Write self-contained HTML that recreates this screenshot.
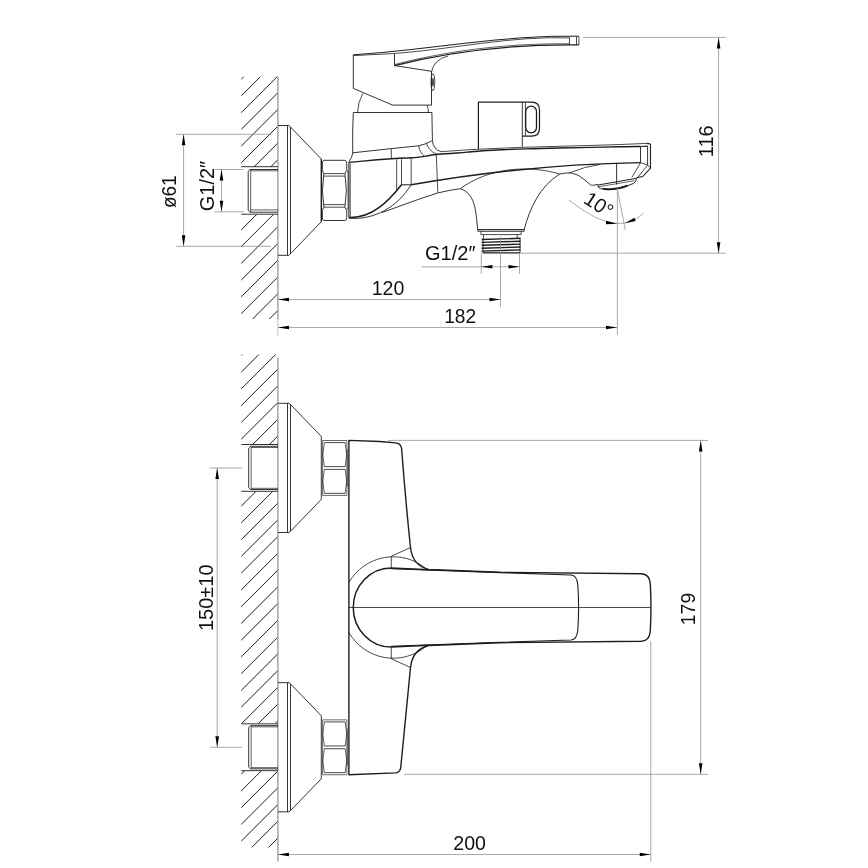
<!DOCTYPE html>
<html><head><meta charset="utf-8"><title>Drawing</title>
<style>
html,body{margin:0;padding:0;background:#fff;}
svg{display:block}
text{font-family:"Liberation Sans",sans-serif;fill:#111;}
svg{filter:grayscale(1)}
</style></head><body>
<svg width="868" height="868" viewBox="0 0 868 868" stroke-linecap="butt" stroke-linejoin="round">
<rect width="868" height="868" fill="#fff"/>
<clipPath id="h1"><path clip-rule="evenodd" d="M241.25,76.8H278V319H241.25ZM241.25,166.7H278V214.2H241.25Z"/></clipPath>
<g clip-path="url(#h1)" stroke="#1d1d1b" stroke-width="1.0">
<line x1="239.25" y1="81.10" x2="280" y2="40.35"/>
<line x1="239.25" y1="97.85" x2="280" y2="57.10"/>
<line x1="239.25" y1="114.60" x2="280" y2="73.85"/>
<line x1="239.25" y1="131.35" x2="280" y2="90.60"/>
<line x1="239.25" y1="148.10" x2="280" y2="107.35"/>
<line x1="239.25" y1="164.85" x2="280" y2="124.10"/>
<line x1="239.25" y1="181.60" x2="280" y2="140.85"/>
<line x1="239.25" y1="198.35" x2="280" y2="157.60"/>
<line x1="239.25" y1="215.10" x2="280" y2="174.35"/>
<line x1="239.25" y1="231.85" x2="280" y2="191.10"/>
<line x1="239.25" y1="248.60" x2="280" y2="207.85"/>
<line x1="239.25" y1="265.35" x2="280" y2="224.60"/>
<line x1="239.25" y1="282.10" x2="280" y2="241.35"/>
<line x1="239.25" y1="298.85" x2="280" y2="258.10"/>
<line x1="239.25" y1="315.60" x2="280" y2="274.85"/>
<line x1="239.25" y1="332.35" x2="280" y2="291.60"/>
<line x1="239.25" y1="349.10" x2="280" y2="308.35"/>
<line x1="239.25" y1="365.85" x2="280" y2="325.10"/>
</g>
<line x1="277.9" y1="76.6" x2="277.9" y2="319.5" stroke="#979797" stroke-width="1.3"/>
<line x1="277.9" y1="319.5" x2="277.9" y2="336" stroke="#c4c4c4" stroke-width="1.0"/>
<line x1="241.25" y1="166.7" x2="278" y2="166.7" stroke="#1d1d1b" stroke-width="0.9"/>
<line x1="241.25" y1="214.2" x2="278" y2="214.2" stroke="#1d1d1b" stroke-width="0.9"/>
<path d="M278,169.5H250L248.2,171.2V210.5L250,212.2H278" stroke="#1d1d1b" stroke-width="0.9" fill="none" />
<path d="M250.7,169.6V212.1M250.7,170.8H278M250.7,209.9H278" stroke="#1d1d1b" stroke-width="0.7" fill="none" />
<path d="M278,125.5H288.8L290.5,127L321.3,159V221.7L290.5,253.8L288.8,255.3H278" stroke="#1d1d1b" stroke-width="0.9" fill="none" />
<path d="M287.5,125.5V255.3M290.5,127V253.8" stroke="#1d1d1b" stroke-width="0.9" fill="none" />
<line x1="321.4" y1="159" x2="321.4" y2="221.7" stroke="#1d1d1b" stroke-width="1.3"/>
<path d="M323.9,160.3 H344.9 Q346.75,160.5 346.75,163.4 V170.4 L344.9,173.6 Q347.9,190.4 344.9,207.2 L346.75,210.3 V217.3 Q346.75,220.3 344.9,220.5 H323.9 Q322.3,220.3 322.3,217.3 V210.3 L323.9,207.2 Q320.9,190.4 323.9,173.6 L322.3,170.4 V163.4 Q322.3,160.5 323.9,160.3 Z" stroke="#1d1d1b" stroke-width="0.9" fill="none" />
<path d="M323.9,173.6H344.9M323.9,176.1H344.9M323.9,204.6H344.9M323.9,207.2H344.9" stroke="#1d1d1b" stroke-width="0.8" fill="none" />
<path d="M346.75,171H348V209H346.75" stroke="#1d1d1b" stroke-width="0.7" fill="none" />
<path d="M441.2,151.7 C510.2,146.1 579.5,146.7 646.5,143.4" stroke="#1d1d1b" stroke-width="0.8" fill="none" />
<path d="M349.0,162.4 C363.0,161.2 370.4,160.2 391.1,158.7 C411.8,157.2 399.7,158.7 411.2,157.8 C422.7,156.9 417.3,157.2 425.6,156.1 C433.9,155.0 425.6,155.5 436.0,154.5 C446.4,153.5 442.9,154.1 456.9,153.0 C470.9,151.9 463.7,152.3 478.1,151.2 C492.5,150.1 479.4,150.7 500.0,149.8 C520.6,148.9 513.3,149.2 540.0,148.5 C566.7,147.8 553.3,148.2 580.0,147.6 C606.7,147.0 599.8,147.2 620.0,146.8 C640.2,146.4 633.7,146.6 640.5,146.5" stroke="#1d1d1b" stroke-width="1.4" fill="none" />
<line x1="640.5" y1="146.5" x2="647.6" y2="146.1" stroke="#1d1d1b" stroke-width="1.2"/>
<path d="M348.9,162.3V217.5" stroke="#1d1d1b" stroke-width="1.0" fill="none" />
<path d="M350.2,163.5V217" stroke="#1d1d1b" stroke-width="0.8" fill="none" />
<path d="M348.9,217.5 C371.7,218.6 388.7,201.2 401.5,184.8" stroke="#1d1d1b" stroke-width="1.5" fill="none" />
<path d="M348.9,218.2 C374.7,220.4 398.1,206.3 411.0,184.8" stroke="#1d1d1b" stroke-width="0.9" fill="none" />
<path d="M381.8,212.6 L420,198.8 L437.5,193 Q450,190 460.3,188.7" stroke="#1d1d1b" stroke-width="0.9" fill="none" />
<path d="M396.7,159.4V189.6 M401.5,159.2V184.8 M411.2,158.5V184.8" stroke="#1d1d1b" stroke-width="0.8" fill="none" />
<path d="M401.5,184.8H411.2" stroke="#1d1d1b" stroke-width="1.0" fill="none" />
<path d="M411.2,184.8 C487.0,171.6 564.0,163.8 640.5,162.6" stroke="#1d1d1b" stroke-width="1.4" fill="none" />
<path d="M352.7,130V152.8 Q352.3,157.5 348.9,161.8" stroke="#1d1d1b" stroke-width="0.9" fill="none" />
<path d="M352.7,152.8 L391.3,148.6 L418.6,145.8 Q426,144.2 431.9,140.8" stroke="#1d1d1b" stroke-width="0.9" fill="none" />
<path d="M391.3,148.6V158.5" stroke="#1d1d1b" stroke-width="0.8" fill="none" />
<path d="M418.6,145.8 Q420,153 424.3,156 M426.2,142.7 Q428.5,150.5 436.3,154.1" stroke="#1d1d1b" stroke-width="0.8" fill="none" />
<path d="M436.3,154.7L437.8,192.7" stroke="#1d1d1b" stroke-width="0.8" fill="none" />
<path d="M353.3,112.5H431.9 M353.3,112.5 L352.7,130 M431.9,112.5 L432.4,140.8 Q433.2,149.5 441.2,151.7" stroke="#1d1d1b" stroke-width="0.9" fill="none" />
<path d="M362.8,93.4 Q358,102 357.5,112.5 M427.2,105.1 Q428.3,109 428.5,112.5" stroke="#1d1d1b" stroke-width="0.8" fill="none" />
<path d="M353.3,54.8V88.4L392.6,105.1H431.5V71.3" stroke="#1d1d1b" stroke-width="0.9" fill="none" />
<path d="M353.3,54.8 C428.7,50.1 503.1,34.6 578.9,36.2" stroke="#1d1d1b" stroke-width="1.0" fill="none" />
<path d="M353.3,55.6 L394.5,53.5 C453.1,49.2 510.9,35.7 570.0,37.9" stroke="#1d1d1b" stroke-width="0.8" fill="none" />
<path d="M394.5,53.5V65.6L431.5,71.3" stroke="#1d1d1b" stroke-width="0.9" fill="none" />
<path d="M394.5,65.6 C454.6,50.2 517.0,44.3 578.9,44.9" stroke="#1d1d1b" stroke-width="1.3" fill="none" />
<path d="M394.5,64.6 C454.6,48.8 517.0,43.2 569.5,43.8" stroke="#1d1d1b" stroke-width="0.7" fill="none" />
<path d="M431.2,73.5 Q433,59.5 448.4,55.9" stroke="#1d1d1b" stroke-width="0.8" fill="none" />
<path d="M578.9,36.2V44.9 M576.5,36.4V44.9 M569.5,37.9V44.8" stroke="#1d1d1b" stroke-width="0.8" fill="none" />
<ellipse cx="432.9" cy="82.2" rx="1.9" ry="8.5" fill="none" stroke="#1d1d1b" stroke-width="0.8"/>
<ellipse cx="433" cy="82.2" rx="0.8" ry="4.5" fill="#1d1d1b"/>
<path d="M478.4,149.1V102.2H531.5Q539.5,102.2 539.5,110V128.2Q539.5,136.1 531.5,136.1H522.3" stroke="#1d1d1b" stroke-width="1.2" fill="none" />
<path d="M522.3,102.2V146.7" stroke="#1d1d1b" stroke-width="0.9" fill="none" />
<path d="M525.4,102.5V136" stroke="#1d1d1b" stroke-width="0.8" fill="none" />
<rect x="525.7" y="106.2" width="10.8" height="26.6" rx="5.4" fill="none" stroke="#1d1d1b" stroke-width="1.3"/>
<path d="M646.5,143.4L650,143.9L650.5,145V168.1L642.8,176.5L637.6,177.5L635.4,178.8" stroke="#1d1d1b" stroke-width="1.1" fill="none" />
<path d="M640.5,146.6V162.6 M647.6,146V165" stroke="#1d1d1b" stroke-width="0.9" fill="none" />
<path d="M640.5,162.6L647.6,165L650.5,168.1" stroke="#1d1d1b" stroke-width="0.8" fill="none" />
<path d="M640.5,162.8L631.9,177.4 M647.6,165.2L637.6,177.4" stroke="#1d1d1b" stroke-width="0.8" fill="none" />
<path d="M598.1,185 L635.2,178.5 Q636.6,179.3 636,180.6 Q635.3,182.4 633.5,183.4 C625,187.5 611,190.3 600.5,188.6 Q597.4,187.6 598.1,185Z" stroke="#1d1d1b" stroke-width="1.0" fill="none" />
<path d="M598.9,186.7 L634.4,180.7" stroke="#1d1d1b" stroke-width="0.7" fill="none" />
<path d="M603,188.8 C611,190 620,188.7 627.5,185.6" stroke="#1d1d1b" stroke-width="1.7" fill="none" />
<path d="M559.8,174 Q566,172.5 571.5,173 Q578.5,174.2 584,179.4 L590.6,184.9 Q591.3,185.4 592.5,185.3 L598,184.5" stroke="#1d1d1b" stroke-width="0.9" fill="none" />
<path d="M569,173 Q585,166.5 600,164.4" stroke="#1d1d1b" stroke-width="0.8" fill="none" />
<path d="M460.3,188.7 C476.9,193.8 475.7,215.5 477.8,229.5 H524.2 C529.8,208.2 540.0,186.0 559.8,174.0" stroke="#1d1d1b" stroke-width="0.9" fill="none" />
<path d="M460.3,188.7 C488.3,168.1 527.1,164.4 559.8,174.0" stroke="#1d1d1b" stroke-width="0.8" fill="none" />
<path d="M477.8,229.5V231.2H524.2V229.5" stroke="#1d1d1b" stroke-width="1.0" fill="none" />
<path d="M480.9,231.2V234.6H521.1V231.2" stroke="#1d1d1b" stroke-width="0.8" fill="none" />
<path d="M483.5,234.6V238.2 M517.2,234.6V238.2" stroke="#1d1d1b" stroke-width="0.8" fill="none" />
<path d="M483,238.2V253 M520,238.2V253" stroke="#1d1d1b" stroke-width="0.9" fill="none" />
<line x1="481.6" y1="239.5" x2="520.6" y2="238.3" stroke="#1d1d1b" stroke-width="1.4"/>
<line x1="481.6" y1="242.39999999999998" x2="520.6" y2="241.2" stroke="#1d1d1b" stroke-width="1.4"/>
<line x1="481.6" y1="245.29999999999998" x2="520.6" y2="244.1" stroke="#1d1d1b" stroke-width="1.4"/>
<line x1="481.6" y1="248.2" x2="520.6" y2="247.0" stroke="#1d1d1b" stroke-width="1.4"/>
<line x1="481.6" y1="251.1" x2="520.6" y2="249.9" stroke="#1d1d1b" stroke-width="1.4"/>
<line x1="483" y1="252.9" x2="520" y2="252.9" stroke="#1d1d1b" stroke-width="1.2"/>
<line x1="616.6" y1="163.2" x2="616.6" y2="184.5" stroke="#1d1d1b" stroke-width="0.9"/>
<line x1="583.1" y1="37.4" x2="725.9" y2="37.4" stroke="#939393" stroke-width="0.8"/>
<line x1="519.5" y1="253.2" x2="725.9" y2="253.2" stroke="#939393" stroke-width="0.8"/>
<line x1="718.6" y1="37.4" x2="718.6" y2="253.2" stroke="#939393" stroke-width="0.8"/>
<polygon points="718.60,37.40 720.40,48.40 716.80,48.40" fill="#000"/>
<polygon points="718.60,253.20 716.80,242.20 720.40,242.20" fill="#000"/>
<text x="713" y="141.3" font-size="20" text-anchor="middle" transform="rotate(-90 713 141.3)">116</text>
<line x1="176" y1="134.3" x2="271" y2="134.3" stroke="#939393" stroke-width="0.8"/>
<line x1="176" y1="246.3" x2="271" y2="246.3" stroke="#939393" stroke-width="0.8"/>
<line x1="183.6" y1="134.3" x2="183.6" y2="246.3" stroke="#939393" stroke-width="0.8"/>
<polygon points="183.60,134.30 185.40,145.30 181.80,145.30" fill="#000"/>
<polygon points="183.60,246.30 181.80,235.30 185.40,235.30" fill="#000"/>
<text x="176.4" y="191.7" font-size="20" text-anchor="middle" transform="rotate(-90 176.4 191.7)" textLength="32.8" lengthAdjust="spacingAndGlyphs">ø61</text>
<line x1="214.4" y1="169.5" x2="243.8" y2="169.5" stroke="#939393" stroke-width="0.8"/>
<line x1="214.4" y1="211.8" x2="243.8" y2="211.8" stroke="#939393" stroke-width="0.8"/>
<line x1="221.5" y1="169.5" x2="221.5" y2="211.8" stroke="#939393" stroke-width="0.8"/>
<polygon points="221.50,169.50 223.30,180.50 219.70,180.50" fill="#000"/>
<polygon points="221.50,211.80 219.70,200.80 223.30,200.80" fill="#000"/>
<text x="213.5" y="186" font-size="20" text-anchor="middle" transform="rotate(-90 213.5 186)">G1/2″</text>
<line x1="481.3" y1="253" x2="481.3" y2="273.8" stroke="#939393" stroke-width="0.8"/>
<line x1="519.5" y1="253" x2="519.5" y2="273.8" stroke="#939393" stroke-width="0.8"/>
<line x1="421.3" y1="266.8" x2="519.5" y2="266.8" stroke="#939393" stroke-width="0.8"/>
<polygon points="481.30,266.80 492.30,265.00 492.30,268.60" fill="#000"/>
<polygon points="519.50,266.80 508.50,268.60 508.50,265.00" fill="#000"/>
<text x="450.3" y="259.8" font-size="20" text-anchor="middle">G1/2″</text>
<line x1="500.5" y1="236.3" x2="500.5" y2="306.7" stroke="#939393" stroke-width="0.8"/>
<line x1="278" y1="299.5" x2="500.5" y2="299.5" stroke="#939393" stroke-width="0.8"/>
<polygon points="278.00,299.50 289.00,297.70 289.00,301.30" fill="#000"/>
<polygon points="500.50,299.50 489.50,301.30 489.50,297.70" fill="#000"/>
<text x="388.0" y="294.6" font-size="20" text-anchor="middle" textLength="32.6" lengthAdjust="spacingAndGlyphs">120</text>
<line x1="278" y1="327.5" x2="617" y2="327.5" stroke="#939393" stroke-width="0.8"/>
<polygon points="278.00,327.50 289.00,325.70 289.00,329.30" fill="#000"/>
<polygon points="617.00,327.50 606.00,329.30 606.00,325.70" fill="#000"/>
<text x="460.2" y="322.5" font-size="20" text-anchor="middle" textLength="32.0" lengthAdjust="spacingAndGlyphs">182</text>
<line x1="617.4" y1="187" x2="617.4" y2="334.8" stroke="#939393" stroke-width="0.8"/>
<line x1="617.7" y1="190.8" x2="625.3" y2="230.1" stroke="#939393" stroke-width="0.8"/>
<path d="M568.9,200.0 C589.2,215.9 620.8,236.2 643.7,213.0" stroke="#939393" stroke-width="0.8" fill="none" />
<polygon points="617.30,223.70 605.88,224.21 606.24,220.83" fill="#000"/>
<polygon points="624.90,223.20 634.37,217.74 635.59,220.92" fill="#000"/>
<text x="582.4" y="202.2" font-size="20" text-anchor="start" transform="rotate(33 582.4 202.2)">10°</text>
<clipPath id="h2"><path clip-rule="evenodd" d="M241.25,354.4H278V847.5H241.25ZM241.25,444.5H278V491.3H241.25ZM241.25,723.5H278V771H241.25Z"/></clipPath>
<g clip-path="url(#h2)" stroke="#1d1d1b" stroke-width="1.0">
<line x1="239.25" y1="357.40" x2="280" y2="316.65"/>
<line x1="239.25" y1="374.15" x2="280" y2="333.40"/>
<line x1="239.25" y1="390.90" x2="280" y2="350.15"/>
<line x1="239.25" y1="407.65" x2="280" y2="366.90"/>
<line x1="239.25" y1="424.40" x2="280" y2="383.65"/>
<line x1="239.25" y1="441.15" x2="280" y2="400.40"/>
<line x1="239.25" y1="457.90" x2="280" y2="417.15"/>
<line x1="239.25" y1="474.65" x2="280" y2="433.90"/>
<line x1="239.25" y1="491.40" x2="280" y2="450.65"/>
<line x1="239.25" y1="508.15" x2="280" y2="467.40"/>
<line x1="239.25" y1="524.90" x2="280" y2="484.15"/>
<line x1="239.25" y1="541.65" x2="280" y2="500.90"/>
<line x1="239.25" y1="558.40" x2="280" y2="517.65"/>
<line x1="239.25" y1="575.15" x2="280" y2="534.40"/>
<line x1="239.25" y1="591.90" x2="280" y2="551.15"/>
<line x1="239.25" y1="608.65" x2="280" y2="567.90"/>
<line x1="239.25" y1="625.40" x2="280" y2="584.65"/>
<line x1="239.25" y1="642.15" x2="280" y2="601.40"/>
<line x1="239.25" y1="658.90" x2="280" y2="618.15"/>
<line x1="239.25" y1="675.65" x2="280" y2="634.90"/>
<line x1="239.25" y1="692.40" x2="280" y2="651.65"/>
<line x1="239.25" y1="709.15" x2="280" y2="668.40"/>
<line x1="239.25" y1="725.90" x2="280" y2="685.15"/>
<line x1="239.25" y1="742.65" x2="280" y2="701.90"/>
<line x1="239.25" y1="759.40" x2="280" y2="718.65"/>
<line x1="239.25" y1="776.15" x2="280" y2="735.40"/>
<line x1="239.25" y1="792.90" x2="280" y2="752.15"/>
<line x1="239.25" y1="809.65" x2="280" y2="768.90"/>
<line x1="239.25" y1="826.40" x2="280" y2="785.65"/>
<line x1="239.25" y1="843.15" x2="280" y2="802.40"/>
<line x1="239.25" y1="859.90" x2="280" y2="819.15"/>
<line x1="239.25" y1="876.65" x2="280" y2="835.90"/>
<line x1="239.25" y1="893.40" x2="280" y2="852.65"/>
</g>
<line x1="277.9" y1="357.5" x2="277.9" y2="861.5" stroke="#979797" stroke-width="1.3"/>
<line x1="241.25" y1="444.5" x2="278" y2="444.5" stroke="#1d1d1b" stroke-width="0.9"/>
<line x1="241.25" y1="491.29999999999995" x2="278" y2="491.29999999999995" stroke="#1d1d1b" stroke-width="0.9"/>
<path d="M278,446.3H250.5L248.7,448.0V487.79999999999995L250.5,489.49999999999994H278" stroke="#1d1d1b" stroke-width="0.9" fill="none" />
<path d="M251.2,446.4V489.4M251.2,447.5H278M251.2,488.29999999999995H278" stroke="#1d1d1b" stroke-width="0.7" fill="none" />
<path d="M278,403.29999999999995H289L290.5,404.49999999999994L321.3,436.4V499.4L290.5,531.3L289,532.5H278" stroke="#1d1d1b" stroke-width="0.9" fill="none" />
<path d="M287.5,403.29999999999995V532.5M290.5,404.49999999999994V531.3" stroke="#1d1d1b" stroke-width="0.9" fill="none" />
<path d="M322.6,440.5H346.9V495.4H322.6Z" stroke="#444" stroke-width="0.8" fill="none" />
<path d="M324.3,442.6H345.2M324.3,466.59999999999997H345.2M324.3,469.4H345.2M324.3,493.29999999999995H345.2" stroke="#1d1d1b" stroke-width="0.8" fill="none" />
<path d="M324.3,442.6Q321.3,454.9 324.3,466.59999999999997M324.3,469.4Q321.3,480.9 324.3,493.29999999999995M345.2,442.6Q348.2,454.9 345.2,466.59999999999997M345.2,469.4Q348.2,480.9 345.2,493.29999999999995" stroke="#1d1d1b" stroke-width="0.7" fill="none" />
<path d="M347.4,449.2V486.5" stroke="#1d1d1b" stroke-width="0.6" fill="none" />
<line x1="241.25" y1="723.85" x2="278" y2="723.85" stroke="#1d1d1b" stroke-width="0.9"/>
<line x1="241.25" y1="770.65" x2="278" y2="770.65" stroke="#1d1d1b" stroke-width="0.9"/>
<path d="M278,725.65H250.5L248.7,727.35V767.15L250.5,768.85H278" stroke="#1d1d1b" stroke-width="0.9" fill="none" />
<path d="M251.2,725.75V768.75M251.2,726.85H278M251.2,767.65H278" stroke="#1d1d1b" stroke-width="0.7" fill="none" />
<path d="M278,682.65H289L290.5,683.85L321.3,715.75V778.75L290.5,810.65L289,811.85H278" stroke="#1d1d1b" stroke-width="0.9" fill="none" />
<path d="M287.5,682.65V811.85M290.5,683.85V810.65" stroke="#1d1d1b" stroke-width="0.9" fill="none" />
<path d="M322.6,719.85H346.9V774.75H322.6Z" stroke="#444" stroke-width="0.8" fill="none" />
<path d="M324.3,721.95H345.2M324.3,745.95H345.2M324.3,748.75H345.2M324.3,772.65H345.2" stroke="#1d1d1b" stroke-width="0.8" fill="none" />
<path d="M324.3,721.95Q321.3,734.25 324.3,745.95M324.3,748.75Q321.3,760.25 324.3,772.65M345.2,721.95Q348.2,734.25 345.2,745.95M345.2,748.75Q348.2,760.25 345.2,772.65" stroke="#1d1d1b" stroke-width="0.7" fill="none" />
<path d="M347.4,728.55V765.85" stroke="#1d1d1b" stroke-width="0.6" fill="none" />
<path d="M348.9,440.4 L380,441.5 L395.5,442.9 Q400.8,443.4 401.6,448.5 Q405.5,500 410.5,547.5 Q412.5,565.5 428.75,569.5 L500,572.3 L641.3,573.8 Q649.5,574 650.3,584 Q651.6,607.5 650.3,631 Q649.5,641 641.3,641.3 L500,642.7 L428.75,645.5 Q412.5,649.5 410.5,667.5 Q404.5,730 400.8,767 Q400.3,772.4 395.6,772.9 L348.9,774.75 Z" stroke="#1d1d1b" stroke-width="1.4" fill="none" />
<path d="M428.75,569.8 L391.25,568 A38,39.5 0 0 0 391.25,647 L428.75,645.2" stroke="#1d1d1b" stroke-width="1.5" fill="none" />
<path d="M391.25,568.6 L500,572.6 L571,575 Q577,575.3 577.8,585 Q579.4,607.5 577.8,630 Q577,639.6 571,640 L500,642.3 L391.25,646.4" stroke="#1d1d1b" stroke-width="1.1" fill="none" />
<path d="M348.9,582.5 A51.2,51.2 0 0 1 426.25,568.75 M348.9,632.5 A51.2,51.2 0 0 0 426.25,646.25" stroke="#1d1d1b" stroke-width="0.8" fill="none" />
<path d="M391.25,556.3V568 M391.25,647V658.7 M391.25,556.3L410.5,547.5 M391.25,658.7L410.5,667.5" stroke="#1d1d1b" stroke-width="0.8" fill="none" />
<line x1="348.75" y1="607.5" x2="650.75" y2="607.5" stroke="#1d1d1b" stroke-width="0.8"/>
<line x1="388" y1="440.4" x2="708" y2="440.4" stroke="#939393" stroke-width="0.8"/>
<line x1="404.3" y1="774.3" x2="708" y2="774.3" stroke="#939393" stroke-width="0.8"/>
<line x1="700.7" y1="440.4" x2="700.7" y2="774.3" stroke="#939393" stroke-width="0.8"/>
<polygon points="700.70,440.40 702.50,451.40 698.90,451.40" fill="#000"/>
<polygon points="700.70,774.30 698.90,763.30 702.50,763.30" fill="#000"/>
<text x="695.1" y="609" font-size="20" text-anchor="middle" transform="rotate(-90 695.1 609)" textLength="32.4" lengthAdjust="spacingAndGlyphs">179</text>
<line x1="650.75" y1="641" x2="650.75" y2="861.5" stroke="#939393" stroke-width="0.8"/>
<line x1="278" y1="854.5" x2="650.75" y2="854.5" stroke="#939393" stroke-width="0.8"/>
<polygon points="278.00,854.50 289.00,852.70 289.00,856.30" fill="#000"/>
<polygon points="650.75,854.50 639.75,856.30 639.75,852.70" fill="#000"/>
<text x="469.6" y="849.75" font-size="20" text-anchor="middle" textLength="32.6" lengthAdjust="spacingAndGlyphs">200</text>
<line x1="209.8" y1="468" x2="242" y2="468" stroke="#939393" stroke-width="0.8"/>
<line x1="209.8" y1="747.25" x2="242" y2="747.25" stroke="#939393" stroke-width="0.8"/>
<line x1="217.2" y1="468" x2="217.2" y2="747.25" stroke="#939393" stroke-width="0.8"/>
<polygon points="217.20,468.00 219.00,479.00 215.40,479.00" fill="#000"/>
<polygon points="217.20,747.25 215.40,736.25 219.00,736.25" fill="#000"/>
<text x="213.4" y="597.7" font-size="20" text-anchor="middle" transform="rotate(-90 213.4 597.7)">150±10</text>
</svg>
</body></html>
